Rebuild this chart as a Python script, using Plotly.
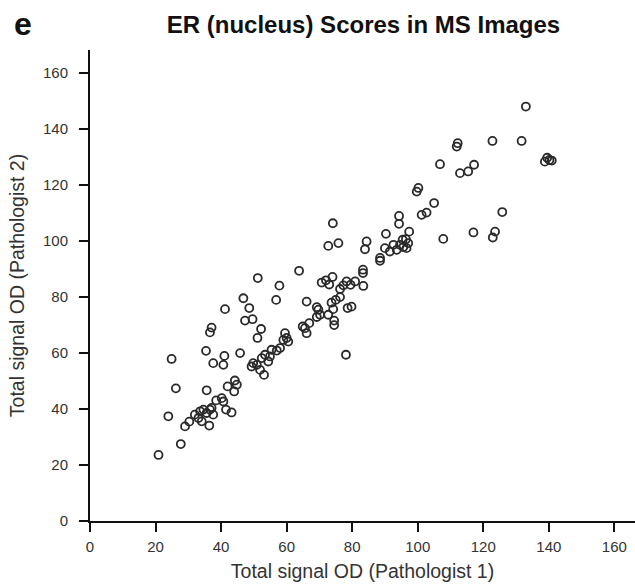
import plotly.graph_objects as go

# Total signal OD, Pathologist 1 (x) vs Pathologist 2 (y)
path1 = [20.9, 27.7, 23.9, 26.2, 24.9, 29.0, 30.3, 32.0, 33.1, 33.6,
         34.6, 35.6, 34.1, 36.6, 37.1, 37.6, 36.4, 38.5, 40.2, 40.7,
         41.5, 43.2, 42.0, 44.2, 44.8, 44.0, 35.6, 35.4, 36.6, 37.1,
         37.6, 41.0, 40.7, 45.8, 41.2, 46.8, 48.6, 47.3, 49.6, 51.2,
         52.2, 51.1, 56.8, 57.8, 63.8, 49.3, 50.9, 49.8, 52.4, 53.4,
         54.9, 55.4, 57.0, 58.0, 53.1, 51.9, 54.4, 59.0, 59.5, 60.0,
         60.5, 64.9, 65.6, 66.1, 66.9, 66.1, 69.2, 69.7, 69.2, 70.2,
         72.7, 74.2, 74.5, 74.5, 73.7, 75.0, 76.3, 78.6, 79.8, 70.7,
         72.0, 73.0, 74.0, 76.3, 77.3, 78.3, 80.9, 79.5, 83.4, 78.1,
         72.7, 75.8, 74.1, 83.3, 83.3, 84.4, 83.9, 88.5, 88.5, 90.3,
         90.0, 91.5, 92.6, 93.6, 94.6, 95.6, 96.6, 95.4, 96.4, 97.1,
         97.4, 94.3, 94.3, 99.7, 100.2, 101.2, 102.7, 105.0, 106.8, 107.8,
         112.2, 111.9, 112.9, 115.4, 117.2, 117.0, 123.6, 122.9, 125.8, 122.8,
         131.7, 133.0, 138.8, 139.5, 140.2, 140.9]
path2 = [23.6, 27.5, 37.4, 47.4, 57.9, 33.8, 35.5, 38.0, 36.8, 39.2,
         39.8, 38.6, 35.6, 39.8, 40.4, 38.0, 34.1, 43.1, 43.9, 42.7,
         39.8, 38.8, 48.1, 50.2, 48.7, 46.3, 46.7, 60.8, 67.4, 69.1,
         56.4, 59.0, 55.8, 60.0, 75.7, 79.6, 76.1, 71.6, 72.1, 86.8,
         68.6, 65.4, 79.0, 84.1, 89.4, 55.2, 55.8, 56.4, 58.2, 59.4,
         58.8, 61.2, 60.9, 61.8, 52.2, 54.0, 57.0, 64.7, 67.1, 65.4,
         64.1, 69.5, 68.9, 67.1, 70.7, 78.4, 76.4, 75.5, 72.9, 73.7,
         73.7, 75.7, 71.6, 70.0, 78.0, 79.0, 80.0, 76.1, 76.6, 85.2,
         86.0, 84.5, 87.2, 82.9, 84.2, 85.6, 85.6, 84.4, 84.0, 59.4,
         98.3, 99.3, 106.4, 89.8, 88.6, 99.9, 97.1, 94.0, 93.0, 102.6,
         97.5, 96.3, 98.7, 96.9, 98.7, 97.9, 97.5, 100.5, 100.7, 99.3,
         103.4, 109.0, 106.2, 117.7, 119.0, 109.4, 110.2, 113.6, 127.5, 100.8,
         135.0, 133.8, 124.3, 124.9, 127.3, 103.1, 103.4, 101.3, 110.4, 135.8,
         135.8, 148.1, 128.4, 129.8, 129.0, 128.8]

tick_vals = [0, 20, 40, 60, 80, 100, 120, 140, 160]
tick_text = ["0", "20", "40", "60", "80", "100", "120", "140", "160"]

FONT = "Arial, 'Liberation Sans', sans-serif"

fig = go.Figure()
fig.add_trace(go.Scatter(
    x=path1, y=path2, mode="markers",
    marker=dict(symbol="circle-open", size=8, color="#2a2a2a",
                line=dict(width=1.8, color="#2a2a2a")),
    showlegend=False, hoverinfo="x+y",
))

axis_common = dict(
    showgrid=False, zeroline=False, showline=True, linecolor="#111",
    linewidth=2, ticks="outside", ticklen=9, tickwidth=2, tickcolor="#111",
    tickvals=tick_vals, ticktext=tick_text,
    tickfont=dict(family=FONT, size=15, color="#333"),
)

fig.update_layout(
    width=635, height=586,
    margin=dict(l=90, r=0, t=50, b=65, autoexpand=False),
    paper_bgcolor="white", plot_bgcolor="white",
    font=dict(family=FONT, color="#222"),
    title=dict(text="<b>ER (nucleus) Scores in MS Images</b>",
               font=dict(family=FONT, size=24, color="#111"),
               xref="container", x=363.5 / 635, xanchor="center",
               yref="container", y=1 - 25 / 586, yanchor="middle"),
    xaxis=dict(range=[0, 166.3],
               title=dict(text="Total signal OD (Pathologist 1)",
                          font=dict(family=FONT, size=19.5, color="#333"),
                          standoff=10),
               ticklabelstandoff=2, **axis_common),
    yaxis=dict(range=[0, 168.3],
               title=dict(text="Total signal OD (Pathologist 2)",
                          font=dict(family=FONT, size=19.5, color="#333"),
                          standoff=13),
               ticklabelstandoff=8, **axis_common),
    annotations=[dict(text="<b>e</b>", xref="paper", yref="paper",
                      x=(12 - 90) / 545, y=(521 - 24) / 471,
                      xanchor="left", yanchor="middle", showarrow=False,
                      font=dict(family=FONT, size=32, color="#111"))],
)

fig.write_html(
    "out.html",
    config={"displayModeBar": False},
    post_script="document.body.style.margin='0';document.body.style.overflow='hidden';",
)
